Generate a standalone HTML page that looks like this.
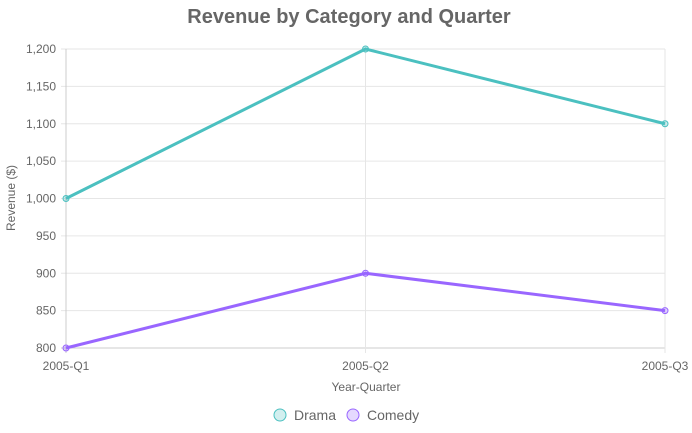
<!DOCTYPE html>
<html><head><meta charset="utf-8"><style>
body{margin:0;background:#fff;}
svg{display:block;font-family:"Liberation Sans",Arial,sans-serif;}
</style></head><body>
<svg id="chart" width="692" height="433" viewBox="0 0 692 433" xmlns="http://www.w3.org/2000/svg">
<text x="349" y="23" text-anchor="middle" font-size="20" font-weight="bold" fill="#666">Revenue by Category and Quarter</text>
<g id="grid"></g><g id="axes"></g><g id="series"></g>
<text transform="translate(15,198) rotate(-90)" text-anchor="middle" font-size="12" fill="#666">Revenue ($)</text>
<text x="366" y="391" text-anchor="middle" font-size="12" fill="#666">Year-Quarter</text>
<g>
<g><circle cx="280" cy="415" r="6" fill="rgba(75,192,192,0.25)" stroke="#4bc0c0" stroke-width="1"/><text x="294" y="420" font-size="14" fill="#666">Drama</text></g>
<g><circle cx="353" cy="415" r="6" fill="rgba(153,102,255,0.25)" stroke="#9966ff" stroke-width="1"/><text x="367" y="420" font-size="14" fill="#666">Comedy</text></g>
</g>
</svg>
<script>
const categories = ["2005-Q1","2005-Q2","2005-Q3"];
const dramaValues = [1000,1200,1100];
const comedyValues = [800,900,850];
const yTicks = [800,850,900,950,1000,1050,1100,1150,1200];
const NS="http://www.w3.org/2000/svg";
const X0=66,X1=665,Y0=348,Y1=49,YMIN=800,YMAX=1200;
const xs=i=>X0+(X1-X0)*i/(categories.length-1);
const ys=v=>Y0-(v-YMIN)/(YMAX-YMIN)*(Y0-Y1);
function mk(tag,attrs,parent){const e=document.createElementNS(NS,tag);for(const k in attrs)e.setAttribute(k,attrs[k]);parent.appendChild(e);return e;}
const grid=document.getElementById('grid'),axes=document.getElementById('axes'),ser=document.getElementById('series');
yTicks.forEach(t=>{const y=ys(t);
 const l=mk('line',{x1:X0-5,x2:X1,y1:y,y2:y,stroke:t===YMIN?'#ccc':'#e6e6e6','stroke-width':1},grid);
 
 
 const tx=mk('text',{x:56,y:y+4,'text-anchor':'end','font-size':12,fill:'#666'},axes);
 tx.textContent=t.toLocaleString('en-US');
 
 
});
categories.forEach((c,i)=>{const x=xs(i);
 const l=mk('line',{x1:x,x2:x,y1:Y1,y2:Y0+5,stroke:i===0?'#ccc':'#e6e6e6','stroke-width':1},grid);
 
 
 const tx=mk('text',{x:x,y:370,'text-anchor':'middle','font-size':12,fill:'#666'},axes);
 tx.textContent=c;
 
 
});
function drawSeries(vals,color,fill,name){
 const p=mk('polyline',{points:vals.map((v,i)=>xs(i)+','+ys(v)).join(' '),fill:'none',stroke:color,'stroke-width':3},ser);
 
 
 vals.forEach((v,i)=>{const c=mk('circle',{cx:xs(i),cy:ys(v),r:3,fill:fill,stroke:color,'stroke-width':1},ser);
  
  });
}
drawSeries(dramaValues,'#4bc0c0','rgba(75,192,192,0.3)','drama');
drawSeries(comedyValues,'#9966ff','rgba(153,102,255,0.3)','comedy');
</script>
</body></html>
